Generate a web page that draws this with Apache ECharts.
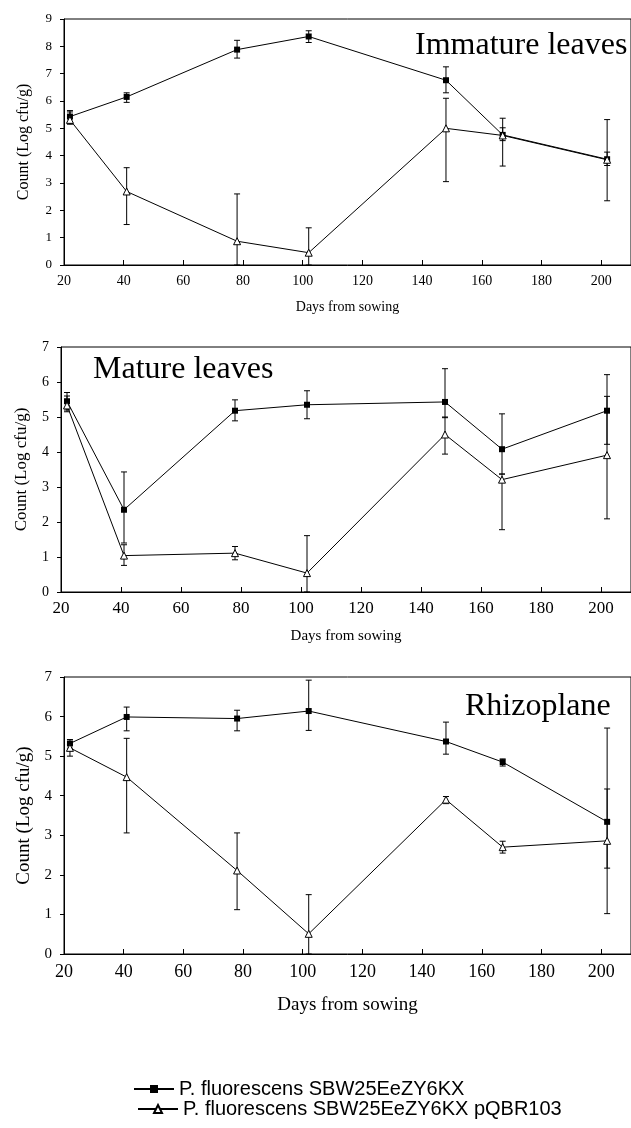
<!DOCTYPE html>
<html>
<head>
<meta charset="utf-8">
<script src="https://cdn.jsdelivr.net/npm/echarts@6/dist/echarts.min.js"></script>
<style>
html,body{margin:0;padding:0;background:#fff;}
#chart{width:631px;height:1128px;}
</style>
</head>
<body>
<div id="chart"></div>
<script>
// ---- data ----
const days = [22, 41, 78, 102, 148, 167, 202];
const xTicks = [20, 40, 60, 80, 100, 120, 140, 160, 180, 200];
const seriesNames = ['P. fluorescens SBW25EeZY6KX', 'P. fluorescens SBW25EeZY6KX pQBR103'];
const panelTitles = ['Immature leaves', 'Mature leaves', 'Rhizoplane'];

// Immature leaves
const immA = [5.43, 6.15, 7.88, 8.36, 6.76, 4.76, 3.87];
const immALow = [5.20, 5.95, 7.57, 8.14, 6.30, 4.55, 3.64];
const immAHigh = [5.65, 6.30, 8.22, 8.57, 7.25, 5.37, 4.13];
const immB = [5.31, 2.69, 0.87, 0.45, 5.00, 4.74, 3.85];
const immBLow = [5.15, 1.48, 0.00, 0.00, 3.05, 3.62, 2.35];
const immBHigh = [5.60, 3.56, 2.60, 1.36, 6.10, 5.02, 5.32];

// Mature leaves
const matA = [5.45, 2.35, 5.18, 5.35, 5.43, 4.08, 5.18];
const matALow = [5.20, 1.40, 4.89, 4.95, 4.98, 3.37, 4.22];
const matAHigh = [5.70, 3.43, 5.49, 5.75, 6.38, 5.09, 6.21];
const matB = [5.33, 1.04, 1.11, 0.54, 4.50, 3.21, 3.91];
const matBLow = [5.15, 0.76, 0.92, 0.00, 3.94, 1.78, 2.09];
const matBHigh = [5.60, 1.35, 1.30, 1.61, 5.00, 3.37, 5.59];

// Rhizoplane
const rhiA = [5.32, 5.99, 5.95, 6.14, 5.37, 4.85, 3.34];
const rhiALow = [5.20, 5.64, 5.64, 5.65, 5.05, 4.75, 2.17];
const rhiAHigh = [5.42, 6.24, 6.16, 6.92, 5.86, 4.93, 5.71];
const rhiB = [5.21, 4.47, 2.11, 0.51, 3.90, 2.70, 2.86];
const rhiBLow = [5.00, 3.06, 1.12, 0.00, 3.80, 2.55, 1.02];
const rhiBHigh = [5.30, 5.45, 3.06, 1.50, 3.98, 2.85, 4.17];

const yMax = [9, 7, 7];

// ---- layout ----
const panels = [
  {a: immA, aL: immALow, aH: immAHigh, b: immB, bL: immBLow, bH: immBHigh,
   grid: {left: 64, top: 19, width: 571, height: 246},
   xFont: 14, xMargin: 9, nameFont: 14, nameGap: 35, yFont: 13, yNameFont: 16, yNameGap: 32,
   title: {x: 415, y: 48}},
  {a: matA, aL: matALow, aH: matAHigh, b: matB, bL: matBLow, bH: matBHigh,
   grid: {left: 61, top: 347, width: 574, height: 245},
   xFont: 17, xMargin: 8, nameFont: 15, nameGap: 37, yFont: 14, yNameFont: 17, yNameGap: 31,
   title: {x: 93, y: 372}},
  {a: rhiA, aL: rhiALow, aH: rhiAHigh, b: rhiB, bL: rhiBLow, bH: rhiBHigh,
   grid: {left: 64, top: 677, width: 571, height: 277},
   xFont: 18, xMargin: 9, nameFont: 19, nameGap: 42, yFont: 15, yNameFont: 19, yNameGap: 30,
   title: {x: 465, y: 709}}
];

const serif = 'Liberation Serif';
const grids = [], xAxes = [], yAxes = [], series = [], graphics = [];

function errRender(params, api) {
  const x = api.value(0), lo = api.value(1), hi = api.value(2);
  const p1 = api.coord([x, lo]);
  const p2 = api.coord([x, hi]);
  const w = 3;
  const st = {stroke: '#000', lineWidth: 1};
  return {type: 'group', children: [
    {type: 'line', shape: {x1: p1[0], y1: p1[1], x2: p2[0], y2: p2[1]}, style: st},
    {type: 'line', shape: {x1: p1[0] - w, y1: p1[1], x2: p1[0] + w, y2: p1[1]}, style: st},
    {type: 'line', shape: {x1: p2[0] - w, y1: p2[1], x2: p2[0] + w, y2: p2[1]}, style: st}
  ]};
}

panels.forEach((p, i) => {
  grids.push(Object.assign({show: true, borderColor: '#000', borderWidth: 1, containLabel: false}, p.grid));
  xAxes.push({
    type: 'value', gridIndex: i, min: 20, max: 210, interval: 20,
    name: 'Days from sowing', nameLocation: 'middle', nameGap: p.nameGap,
    nameTextStyle: {fontFamily: serif, fontSize: p.nameFont, color: '#000'},
    axisLine: {show: true, onZero: false, lineStyle: {color: '#000', width: 1}},
    axisTick: {show: true, inside: true, length: 5, lineStyle: {color: '#000'}},
    axisLabel: {fontFamily: serif, fontSize: p.xFont, color: '#000', margin: p.xMargin, showMaxLabel: false},
    splitLine: {show: false}
  });
  yAxes.push({
    type: 'value', gridIndex: i, min: 0, max: yMax[i], interval: 1,
    name: 'Count (Log cfu/g)', nameLocation: 'middle', nameGap: p.yNameGap, nameRotate: 90,
    nameTextStyle: {fontFamily: serif, fontSize: p.yNameFont, color: '#000'},
    axisLine: {show: true, lineStyle: {color: '#000', width: 1}},
    axisTick: {show: true, inside: false, length: 4, lineStyle: {color: '#000'}},
    axisLabel: {fontFamily: serif, fontSize: p.yFont, color: '#000', margin: 12},
    splitLine: {show: false}
  });
  const errA = days.map((d, k) => [d, p.aL[k], p.aH[k]]);
  const errB = days.map((d, k) => [d, p.bL[k], p.bH[k]]);
  series.push({
    type: 'custom', name: 'errA' + i, xAxisIndex: i, yAxisIndex: i, renderItem: errRender,
    encode: {x: 0, y: [1, 2]}, data: errA, z: 1, silent: true
  });
  series.push({
    type: 'custom', name: 'errB' + i, xAxisIndex: i, yAxisIndex: i, renderItem: errRender,
    encode: {x: 0, y: [1, 2]}, data: errB, z: 1, silent: true
  });
  series.push({
    type: 'line', name: seriesNames[0], xAxisIndex: i, yAxisIndex: i,
    data: days.map((d, k) => [d, p.a[k]]),
    symbol: 'rect', symbolSize: 6, showAllSymbol: true,
    lineStyle: {color: '#000', width: 1},
    itemStyle: {color: '#000', borderColor: '#000', borderWidth: 0}, z: 3
  });
  series.push({
    type: 'line', name: seriesNames[1], xAxisIndex: i, yAxisIndex: i,
    data: days.map((d, k) => [d, p.b[k]]),
    symbol: 'triangle', symbolSize: 7, showAllSymbol: true,
    lineStyle: {color: '#000', width: 1},
    itemStyle: {color: '#fff', borderColor: '#000', borderWidth: 1}, z: 3
  });
  graphics.push({
    type: 'text', left: p.title.x, top: p.title.y - 18, z: 10,
    style: {text: panelTitles[i], font: '32px "Liberation Serif"', fill: '#000'}
  });
});

const legendCommon = {
  orient: 'horizontal', itemGap: 0, padding: 0,
  itemWidth: 40, itemHeight: 10, selectedMode: false,
  textStyle: {fontFamily: 'Liberation Sans', fontSize: 20, color: '#000'}
};

const chart = echarts.init(document.getElementById('chart'));
chart.setOption({
  animation: false,
  backgroundColor: '#fff',
  grid: grids,
  xAxis: xAxes,
  yAxis: yAxes,
  series: series,
  graphic: graphics,
  legend: [
    Object.assign({data: [seriesNames[0]], left: 133, top: 1079}, legendCommon),
    Object.assign({data: [seriesNames[1]], left: 137, top: 1099}, legendCommon)
  ]
});
</script>
</body>
</html>
